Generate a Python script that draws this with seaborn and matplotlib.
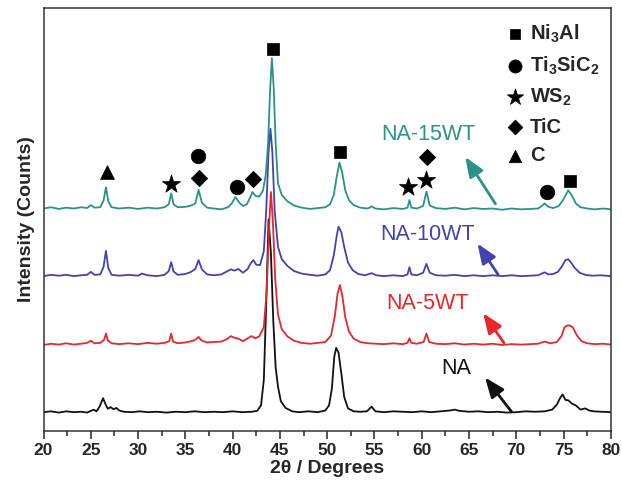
import matplotlib
matplotlib.use("Agg")
import matplotlib.pyplot as plt
import seaborn as sns
import pandas as pd
from matplotlib.ticker import MultipleLocator

# ---------------- data ----------------
na_x = [20, 20.8, 21.6, 22.4, 23.2, 24.0, 24.6, 25.0, 25.3, 25.6,
        25.9, 26.1, 26.3, 26.55, 26.8, 27.1, 27.4, 27.7, 28.0, 28.5,
        29.3, 30.2, 31.0, 32.0, 33.0, 34.0, 35.0, 36.0, 37.0, 38.0,
        39.0, 40.0, 41.0, 42.0, 42.6, 43.0, 43.3, 43.55, 43.8, 44.05,
        44.3, 44.55, 44.8, 45.1, 45.6, 46.3, 47.0, 48.0, 49.0, 49.8,
        50.2, 50.5, 50.75, 50.95, 51.2, 51.5, 51.8, 52.2, 52.8, 53.5,
        54.2, 54.7, 55.1, 56.0, 57.0, 58.0, 59.0, 60.0, 61.0, 62.0,
        63.0, 63.5, 64.0, 65.0, 66.0, 67.0, 68.0, 69.0, 70.0, 71.0,
        72.0, 73.0, 73.8, 74.3, 74.6, 74.9, 75.2, 75.5, 75.9, 76.3,
        76.8, 77.3, 77.7, 78.2, 79.0, 80]
na_y = [4.4, 4.6, 4.3, 4.6, 4.4, 4.5, 4.3, 4.7, 5.0, 4.6,
        5.6, 6.6, 7.7, 6.3, 5.2, 5.6, 5.1, 5.4, 4.8, 4.5,
        4.4, 4.6, 4.4, 4.5, 4.3, 4.5, 4.4, 4.6, 4.4, 4.5,
        4.4, 4.6, 4.4, 4.5, 4.7, 6.0, 12.0, 30.0, 50.0, 42.0,
        26.0, 15.0, 10.4, 7.0, 5.4, 4.6, 4.4, 4.6, 4.4, 4.8,
        6.0, 10.0, 17.5, 19.6, 18.5, 13.5, 8.0, 5.3, 4.6, 4.5,
        4.6, 5.7, 4.6, 4.4, 4.6, 4.5, 4.4, 4.6, 4.4, 4.6,
        4.8, 5.0, 4.7, 4.5, 4.6, 4.4, 4.5, 4.3, 4.4, 4.6,
        4.5, 4.6, 5.0, 6.2, 7.6, 8.6, 7.3, 7.2, 6.4, 6.0,
        5.0, 5.3, 4.8, 4.6, 4.5, 4.4]

na5_x = [20, 20.8, 21.6, 22.4, 23.2, 24.0, 24.6, 25.0, 25.4, 26.0,
         26.4, 26.6, 26.8, 27.2, 28.0, 29.0, 30.0, 31.0, 32.0, 32.8,
         33.3, 33.5, 33.7, 34.2, 35.0, 35.8, 36.1, 36.4, 36.7, 37.3,
         38.0, 38.8, 39.4, 39.8, 40.2, 40.6, 41.1, 41.6, 42.0, 42.4,
         42.8, 43.3, 43.6, 43.85, 44.05, 44.25, 44.5, 44.8, 45.2, 45.8,
         46.5, 47.3, 48.2, 49.0, 49.8, 50.4, 50.8, 51.1, 51.35, 51.6,
         51.9, 52.3, 52.8, 53.5, 54.3, 55.2, 56.0, 57.0, 58.0, 58.5,
         58.7, 58.9, 59.5, 60.2, 60.5, 60.8, 61.5, 62.5, 63.5, 64.5,
         65.5, 66.5, 67.5, 68.5, 69.5, 70.5, 71.5, 72.3, 73.0, 73.6,
         74.3, 74.8, 75.1, 75.4, 75.7, 76.0, 76.4, 76.9, 77.5, 78.3,
         79.2, 80]
na5_y = [20.3, 20.6, 20.4, 20.7, 20.4, 20.6, 20.8, 21.3, 20.7, 20.8,
         21.5, 23.0, 21.4, 20.7, 20.5, 20.7, 20.5, 20.8, 20.6, 20.8,
         21.2, 23.0, 21.1, 20.7, 20.9, 21.3, 21.6, 22.2, 21.4, 20.9,
         21.0, 21.1, 21.7, 22.4, 22.0, 21.8, 21.2, 21.9, 22.4, 21.9,
         22.3, 24.5, 33.0, 48.0, 56.5, 50.0, 36.0, 27.5, 24.0, 22.3,
         21.3, 20.8, 20.6, 20.8, 21.0, 22.5, 27.0, 32.5, 34.5, 32.0,
         27.0, 23.5, 21.8, 21.0, 20.7, 20.6, 20.5, 20.7, 20.5, 20.8,
         21.9, 20.8, 20.6, 21.0, 23.0, 21.0, 20.6, 20.5, 20.7, 20.4,
         20.6, 20.4, 20.6, 20.3, 20.5, 20.4, 20.5, 20.6, 21.1, 20.7,
         21.0, 22.5, 24.5, 24.9, 24.9, 24.4, 22.6, 21.2, 20.7, 20.5,
         20.6, 20.4]

na10_x = [20, 20.8, 21.6, 22.4, 23.2, 24.0, 24.6, 25.0, 25.4, 26.0,
          26.35, 26.6, 26.85, 27.2, 28.0, 29.0, 30.0, 30.4, 31.0, 32.0,
          32.8, 33.25, 33.5, 33.75, 34.2, 35.0, 35.6, 36.05, 36.4, 36.75,
          37.3, 38.0, 38.8, 39.4, 39.8, 40.2, 40.6, 41.1, 41.6, 41.9,
          42.2, 42.5, 42.9, 43.3, 43.55, 43.8, 44.0, 44.2, 44.45, 44.8,
          45.2, 45.8, 46.5, 47.3, 48.2, 49.0, 49.8, 50.3, 50.7, 51.0,
          51.2, 51.5, 51.8, 52.2, 52.7, 53.3, 54.0, 54.7, 55.2, 56.0,
          57.0, 58.0, 58.5, 58.7, 58.9, 59.5, 60.15, 60.5, 60.85, 61.5,
          62.5, 63.5, 64.5, 65.5, 66.5, 67.5, 68.5, 69.5, 70.5, 71.5,
          72.3, 72.7, 73.0, 73.4, 73.9, 74.4, 74.8, 75.2, 75.5, 75.8,
          76.2, 76.7, 77.3, 78.0, 79.0, 80]
na10_y = [36.6, 36.9, 36.7, 36.9, 36.6, 36.8, 36.9, 37.6, 36.9, 37.0,
          38.8, 42.6, 38.5, 36.9, 36.7, 36.9, 36.7, 37.2, 36.8, 36.6,
          36.9, 37.8, 39.9, 37.7, 36.9, 37.1, 37.6, 38.3, 40.4, 38.2,
          37.0, 36.8, 37.0, 37.7, 38.2, 37.9, 38.3, 37.4, 38.3, 39.6,
          40.4, 39.3, 39.2, 42.5, 52.0, 66.0, 71.5, 66.0, 52.0, 43.5,
          40.6, 39.0, 37.8, 37.2, 36.9, 36.7, 37.0, 38.0, 41.5, 46.0,
          48.3, 47.0, 43.5, 39.8, 38.0, 37.1, 36.8, 37.3, 36.8, 36.6,
          36.8, 36.6, 37.0, 38.7, 37.0, 36.8, 37.4, 39.5, 37.4, 36.8,
          36.7, 36.9, 36.6, 36.8, 36.6, 36.8, 36.6, 36.8, 36.6, 36.7,
          36.8, 37.2, 37.5, 37.0, 37.1, 37.6, 38.8, 40.4, 40.6, 39.8,
          38.5, 37.4, 36.9, 36.7, 36.8, 36.6]

na15_x = [20, 20.8, 21.6, 22.4, 23.2, 24.0, 24.6, 25.0, 25.4, 26.0,
          26.35, 26.6, 26.85, 27.2, 28.0, 29.0, 30.0, 31.0, 32.0, 32.8,
          33.25, 33.5, 33.75, 34.2, 35.0, 35.6, 36.05, 36.4, 36.75, 37.3,
          38.0, 38.8, 39.5, 39.9, 40.3, 40.7, 41.1, 41.5, 41.85, 42.1,
          42.4, 42.8, 43.2, 43.5, 43.75, 43.95, 44.15, 44.35, 44.55, 44.8,
          45.2, 45.8, 46.5, 47.3, 48.2, 49.0, 49.8, 50.3, 50.7, 51.0,
          51.3, 51.6, 51.9, 52.3, 52.8, 53.5, 54.3, 54.7, 55.1, 56.0,
          57.0, 58.0, 58.5, 58.7, 58.9, 59.5, 60.15, 60.5, 60.85, 61.5,
          62.5, 63.5, 64.5, 65.5, 66.5, 67.5, 68.5, 69.5, 70.5, 71.5,
          72.3, 72.7, 73.0, 73.4, 73.9, 74.5, 75.0, 75.5, 75.9, 76.3,
          76.8, 77.5, 78.3, 79.2, 80]
na15_y = [52.6, 52.9, 52.5, 52.8, 52.6, 52.9, 52.7, 53.4, 52.8, 52.9,
          54.5, 57.6, 54.3, 52.9, 52.6, 52.8, 52.5, 52.8, 52.6, 52.9,
          53.6, 56.2, 53.6, 52.9, 53.0, 53.3, 53.8, 57.0, 54.0, 52.8,
          52.6, 52.4, 52.9, 53.8, 55.3, 54.0, 53.2, 53.6, 55.2, 56.5,
          55.6, 55.4, 56.8, 60.5, 68.0, 80.0, 88.2, 81.0, 68.0, 58.5,
          55.8, 54.3, 53.3, 52.8, 52.5, 52.7, 52.9, 53.6, 55.8, 60.0,
          63.5, 61.0, 57.0, 54.6, 53.4, 52.8, 52.6, 53.1, 52.6, 52.4,
          52.7, 52.5, 52.8, 54.6, 52.8, 52.6, 53.2, 56.6, 53.3, 52.7,
          52.5, 52.8, 52.4, 52.7, 52.5, 52.6, 52.3, 52.6, 52.4, 52.5,
          52.6, 53.2, 53.8, 53.0, 52.7, 53.2, 54.8, 56.9, 55.6, 53.8,
          52.9, 52.6, 52.4, 52.6, 52.4]

series_names = ["NA", "NA-5WT", "NA-10WT", "NA-15WT"]
series_colors = ["#111111", "#e8262b", "#4343b0", "#2a9388"]

# sample label positions (centre) and arrow tail/head
label_x = [63.6, 60.6, 60.6, 60.7]
label_y = [14.7, 30.2, 46.5, 70.2]
arrow_tail_x = [69.5, 68.7, 68.1, 67.8]
arrow_tail_y = [4.5, 20.8, 36.9, 53.7]
arrow_head_x = [66.7, 66.5, 65.9, 64.6]
arrow_head_y = [12.6, 27.8, 44.3, 64.8]

# phase markers
phase_names = ["Ni$_3$Al", "Ti$_3$SiC$_2$", "WS$_2$", "TiC", "C"]
phase_markers = ["s", "o", "*", "D", "^"]
phase_sizes = [75, 110, 190, 70, 100]
ni3al_x, ni3al_y = [44.25, 51.35, 75.7], [90.4, 65.9, 59.0]
ti3sic2_x, ti3sic2_y = [36.3, 40.5, 73.2], [65.1, 57.6, 56.6]
ws2_x, ws2_y = [33.5, 58.6, 60.5], [58.3, 57.8, 59.4]
tic_x, tic_y = [36.4, 42.2, 60.6], [59.8, 59.6, 64.9]
c_x, c_y = [26.7], [61.2]

x_ticks = [20, 25, 30, 35, 40, 45, 50, 55, 60, 65, 70, 75, 80]

# ---------------- styling ----------------
sns.set_style("ticks")
plt.rcParams["font.family"] = ["Liberation Sans", "DejaVu Sans"]
plt.rcParams["mathtext.fontset"] = "custom"
plt.rcParams["mathtext.rm"] = "Liberation Sans:bold"
plt.rcParams["mathtext.it"] = "Liberation Sans:bold"
plt.rcParams["mathtext.bf"] = "Liberation Sans:bold"
plt.rcParams["mathtext.default"] = "rm"

fig = plt.figure(figsize=(6.22, 4.84), dpi=100)
ax = fig.add_axes([0.070, 0.110, 0.912, 0.873])

traces = [(na_x, na_y), (na5_x, na5_y), (na10_x, na10_y), (na15_x, na15_y)]
for (xs, ys), name, col in zip(traces, series_names, series_colors):
    df = pd.DataFrame({"x": xs, "y": ys})
    sns.lineplot(data=df, x="x", y="y", ax=ax, color=col, lw=1.3,
                 sort=False, estimator=None, legend=False)

for i, (name, col) in enumerate(zip(series_names, series_colors)):
    ax.text(label_x[i], label_y[i], name, color=col, fontsize=15.5,
            ha="center", va="center")
    ax.annotate("", xy=(arrow_head_x[i], arrow_head_y[i]),
                xytext=(arrow_tail_x[i], arrow_tail_y[i]),
                arrowprops=dict(arrowstyle="-|>,head_length=0.6,head_width=0.24",
                                color=col, lw=2.0, mutation_scale=20,
                                shrinkA=0, shrinkB=0))

phase_pts = [(ni3al_x, ni3al_y), (ti3sic2_x, ti3sic2_y), (ws2_x, ws2_y),
             (tic_x, tic_y), (c_x, c_y)]
for (px, py), name, mk, sz in zip(phase_pts, phase_names, phase_markers, phase_sizes):
    sns.scatterplot(x=px, y=py, ax=ax, marker=mk, s=sz, color="black",
                    edgecolor="black", linewidth=0.5, label=name, zorder=5)

leg = ax.legend(loc="upper left", bbox_to_anchor=(0.795, 0.985), frameon=False,
                prop={"weight": "bold", "size": 14.5}, labelspacing=0.48,
                handletextpad=0.15, borderaxespad=0, markerscale=0.9,
                handlelength=1.2)

ax.set_xlim(20, 80)
ax.set_ylim(0, 100)
ax.set_xticks(x_ticks)
ax.xaxis.set_minor_locator(MultipleLocator(2.5))
ax.set_yticks([])
ax.tick_params(axis="x", which="major", direction="out", length=6, width=1.1,
               labelsize=12.5, pad=3)
ax.tick_params(axis="x", which="minor", direction="out", length=3.5, width=1.1)
for lab in ax.get_xticklabels():
    lab.set_fontweight("bold")
for sp in ax.spines.values():
    sp.set_visible(True)
    sp.set_linewidth(1.1)
    sp.set_color("#333333")

ax.set_xlabel("2θ / Degrees", fontsize=14, fontweight="bold", labelpad=1)
ax.set_ylabel("Intensity (Counts)", fontsize=14, fontweight="bold", labelpad=6)

fig.savefig("out.png", dpi=100)
